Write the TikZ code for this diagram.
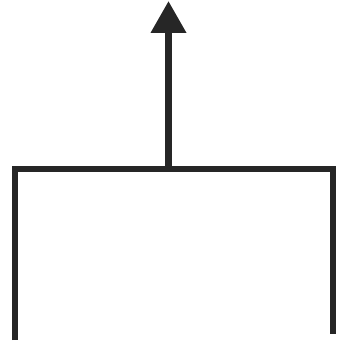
\documentclass[tikz,border=0pt]{standalone}
\usepackage{tikz}
\usetikzlibrary{arrows.meta}
\begin{document}
\begin{tikzpicture}[x=1pt,y=-1pt,
    frame/.style={line width=6.5pt,black!85,line join=miter},
    lift/.style={line width=7pt,black!85,-{Triangle[length=32pt,width=34pt]}}]
    \useasboundingbox (0,0) rectangle (337,342);
    \coordinate (lb) at (15,340);
    \coordinate (lt) at (15,169);
    \coordinate (rt) at (333,169);
    \coordinate (rb) at (333,334);
    \coordinate (mid) at (168.5,169);
    \coordinate (tip) at (168.5,1);
    \draw[frame] (lb) -- (lt) -- (rt) -- (rb);
    \draw[lift] (mid) -- (tip);
  \end{tikzpicture}
\end{document}
